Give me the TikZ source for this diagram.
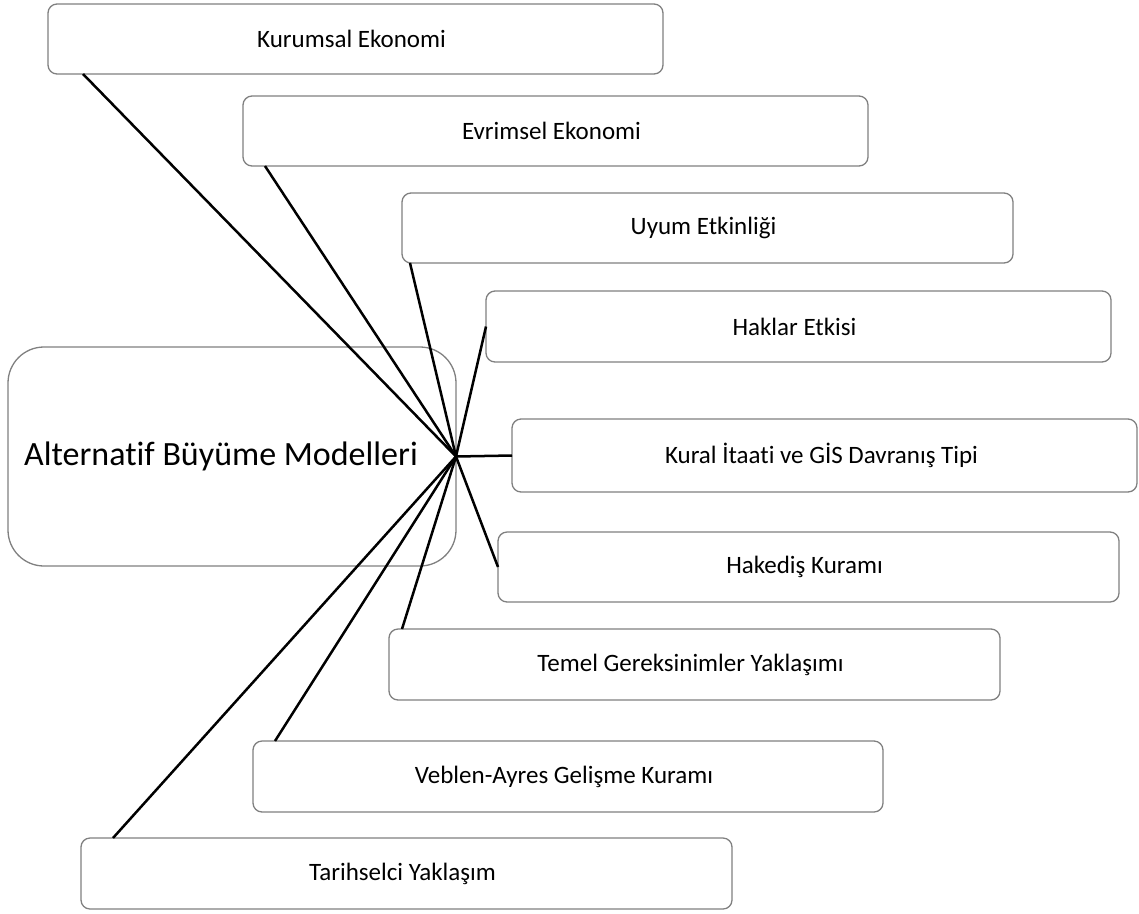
\documentclass[tikz,border=0pt]{standalone}
\usepackage{fontspec}
\setmainfont[Ligatures=NoCommon]{Carlito}
\usetikzlibrary{calc}
\begin{document}
\begin{tikzpicture}[x=1pt,y=-1pt,
  item/.style={draw=black!50, line width=1.3pt, rounded corners=9pt, fill=white,
    anchor=north west, inner sep=0pt, outer sep=0pt, font=\fontsize{25}{30}\selectfont},
  hubbox/.style={draw=black!50, line width=1.3pt, rounded corners=36pt, fill=white,
    anchor=north west, inner sep=0pt, outer sep=0pt, font=\fontsize{34}{40}\selectfont},
  link/.style={draw=black, line width=2.5pt}]
\useasboundingbox (0,0) rectangle (1139,913);

% central topic
\node[hubbox, minimum width=448pt, minimum height=219pt] (c) at (8,347) {Alternatif Büyüme Modelleri\kern22pt};

% branch boxes
\node[item, minimum width=615pt, minimum height=70pt] (b1) at (48,4) {Kurumsal Ekonomi\kern8pt};
\node[item, minimum width=625pt, minimum height=70pt] (b2) at (243,96) {Evrimsel Ekonomi\kern8pt};
\node[item, minimum width=611pt, minimum height=70pt] (b3) at (402,193) {Uyum Etkinliği\kern8pt};
\node[item, minimum width=625pt, minimum height=71pt] (b4) at (486,291) {Haklar Etkisi\kern8pt};
\node[item, minimum width=625pt, minimum height=73pt] (b5) at (512,419) {Kural İtaati ve GİS Davranış Tipi\kern6pt};
\node[item, minimum width=621pt, minimum height=70pt] (b6) at (498,532) {Hakediş Kuramı\kern8pt};
\node[item, minimum width=611pt, minimum height=71pt] (b7) at (389,629) {Temel Gereksinimler Yaklaşımı\kern8pt};
\node[item, minimum width=630pt, minimum height=71pt] (b8) at (253,741) {Veblen-Ayres Gelişme Kuramı\kern8pt};
\node[item, minimum width=651pt, minimum height=71pt] (b9) at (81,838) {Tarihselci Yaklaşım\kern8pt};

% connectors from the hub point
\coordinate (h) at (c.east);
\draw[link] (h) -- ($(b1.south west)+(35,0)$);
\draw[link] (h) -- ($(b2.south west)+(22,0)$);
\draw[link] (h) -- ($(b3.south west)+(8,0)$);
\draw[link] (h) -- (b4.west);
\draw[link] (h) -- (b5.west);
\draw[link] (h) -- (b6.west);
\draw[link] (h) -- ($(b7.north west)+(13,0)$);
\draw[link] (h) -- ($(b8.north west)+(22,0)$);
\draw[link] (h) -- ($(b9.north west)+(32,0)$);
\end{tikzpicture}
\end{document}
